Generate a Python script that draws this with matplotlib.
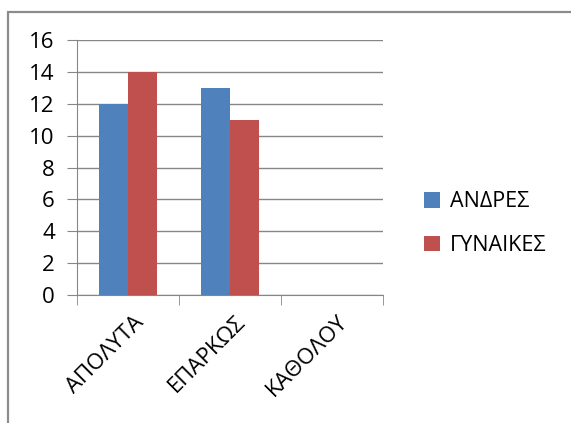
import numpy as np
import matplotlib.pyplot as plt
from matplotlib.patches import Rectangle

categories = ['ΑΠΟΛΥΤΑ', 'ΕΠΑΡΚΩΣ', 'ΚΑΘΟΛΟΥ']
andres = [12, 13, 0]
gynaikes = [14, 11, 0]
series_names = ['ΑΝΔΡΕΣ', 'ΓΥΝΑΙΚΕΣ']

plt.rcParams['font.family'] = ['Open Sans', 'DejaVu Sans']
grid_col = '#868686'

fig = plt.figure(figsize=(5.71, 4.23), dpi=100)
ax = fig.add_axes([0.1349, 0.3026, 0.5359, 0.6028])

# outer chart frame, running past the right and bottom edges
fig.patches.append(Rectangle((8 / 571, -0.05), 1.0, 1 - 12 / 423 + 0.05,
                             transform=fig.transFigure, fill=False,
                             edgecolor='#8c8c8c', linewidth=1.6))

x = np.arange(len(categories))
bw = 1 / 3.5
ax.bar(x - bw / 2, andres, bw, color='#4F81BD', label=series_names[0])
ax.bar(x + bw / 2, gynaikes, bw, color='#C0504D', label=series_names[1])

ax.set_xlim(-0.5, len(categories) - 0.5)
ax.set_ylim(0, 16)
ax.set_yticks(range(0, 17, 2))
ax.yaxis.grid(True, color=grid_col, linewidth=1)
ax.set_axisbelow(True)

ax.set_xticks(x + 0.05)
ax.set_xticklabels(categories, rotation=45, ha='right', rotation_mode='anchor')
ax.set_xticks(np.arange(-0.5, len(categories)), minor=True)
ax.tick_params(axis='x', which='major', length=0, pad=12, labelsize=16)
ax.tick_params(axis='x', which='minor', length=7, color=grid_col, direction='out')
ax.tick_params(axis='y', length=7, color=grid_col, labelsize=16, pad=9)

for s in ['top', 'right']:
    ax.spines[s].set_visible(False)
for s in ['left', 'bottom']:
    ax.spines[s].set_color(grid_col)

ax.legend(loc='center left', bbox_to_anchor=(1.07, 0.28), frameon=False,
          handlelength=0.75, handleheight=0.75, handletextpad=0.45,
          labelspacing=1.05, fontsize=15.5)

fig.savefig('out.png', dpi=100)
